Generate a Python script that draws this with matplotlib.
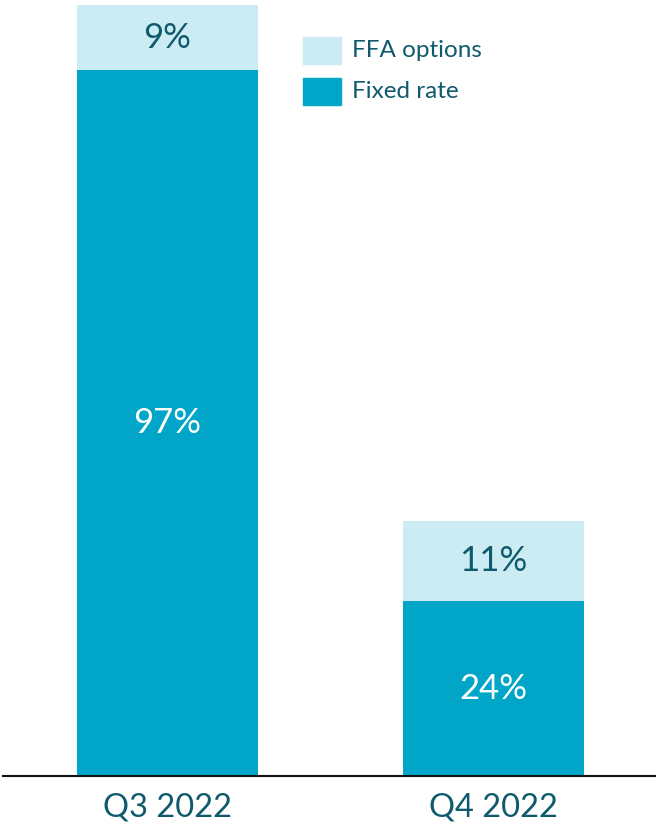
import matplotlib
matplotlib.use("Agg")
import matplotlib.pyplot as plt
from matplotlib.patches import Rectangle

categories = ["Q3 2022", "Q4 2022"]
fixed_rate = [97, 24]
ffa_options = [9, 11]
legend_labels = ["FFA options", "Fixed rate"]

dark = "#00A5C8"
light = "#CCECF4"
txt = "#0F5A6C"

plt.rcParams['font.family'] = ['Lato', 'DejaVu Sans']

fig = plt.figure(figsize=(6.56, 8.27), dpi=100)
W, H = 656, 827
ax = fig.add_axes([3 / W, (H - 776) / H, (656 - 3) / W, 771 / H])

x = list(range(len(categories)))
bw = 181 / 326
ax.bar(x, fixed_rate, width=bw, color=dark, label="Fixed rate")
ax.bar(x, ffa_options, width=bw, bottom=fixed_rate, color=light, label="FFA options")

for i in x:
    ax.text(i, fixed_rate[i] / 2, f"{fixed_rate[i]}%", ha="center", va="center",
            color="white", fontsize=25)
    ax.text(i, fixed_rate[i] + ffa_options[i] / 2, f"{ffa_options[i]}%", ha="center",
            va="center", color=txt, fontsize=25)

ax.set_xlim((3 - 167.5) / 326, (656 - 167.5) / 326)
ax.set_ylim(0, 106)
ax.set_xticks(x)
ax.set_xticklabels(categories, fontsize=23.5, color=txt)
ax.tick_params(axis="x", length=0, pad=12)
ax.set_yticks([])
for s in ["top", "right", "left"]:
    ax.spines[s].set_visible(False)
ax.spines["bottom"].set_color("#111111")
ax.spines["bottom"].set_linewidth(1.5)

# legend drawn in figure pixel layout
leg_colors = [light, dark]
for k, (lab, col) in enumerate(zip(legend_labels, leg_colors)):
    top = 37 + 41 * k
    fig.patches.append(Rectangle((303 / W, 1 - (top + 27) / H), 38 / W, 27 / H,
                                 transform=fig.transFigure, color=col))
    fig.text(352 / W, 1 - (top + 13.5) / H, lab, ha="left", va="center",
             fontsize=17.5, color=txt)

fig.savefig("out.png", dpi=100)
